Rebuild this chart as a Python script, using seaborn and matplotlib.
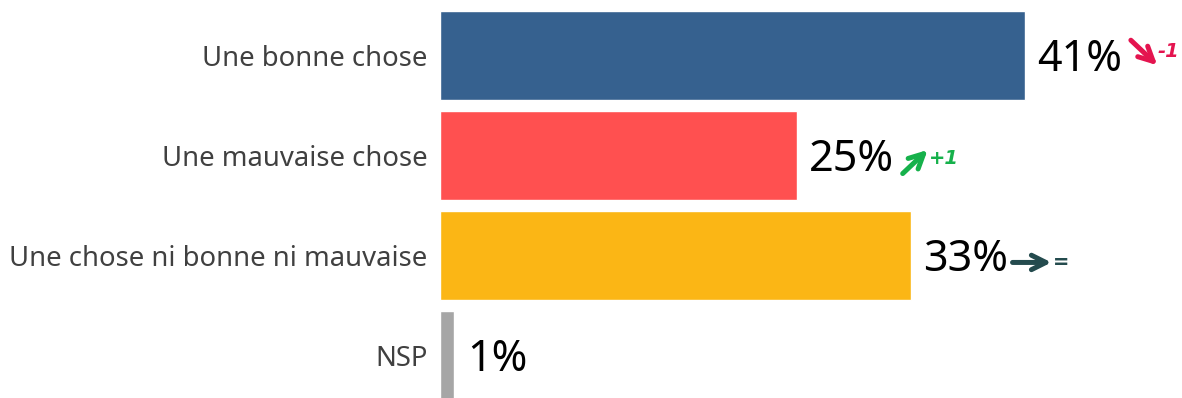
import matplotlib
matplotlib.use("Agg")
import matplotlib.pyplot as plt
import seaborn as sns
from matplotlib.text import OffsetFrom

categories = ["Une bonne chose", "Une mauvaise chose",
              "Une chose ni bonne ni mauvaise", "NSP"]
values = [41, 25, 33, 1]
value_labels = ["41%", "25%", "33%", "1%"]
colors = ["#36618F", "#FF5050", "#FBB615", "#A6A6A6"]

# evolution vs previous wave
changes = ["-1", "+1", "=", None]
change_colors = ["#E4144F", "#16B14B", "#244B4E", None]
# arrow tail / head / label offsets (points from right-middle of value label)
arrow_geom = [
    ((6, 14), (25, -4), (25, 6)),
    ((6, -10), (24, 7), (25, 1)),
    ((3, -2), (31, -2), (32, -2)),
    None,
]

sns.set_style("white")
plt.rcParams["font.family"] = ["Noto Sans", "DejaVu Sans"]

fig = plt.figure(figsize=(11.82, 3.98), dpi=100)
ax = fig.add_axes([440 / 1182, 0, 742 / 1182, 1])

sns.barplot(x=values, y=categories, hue=categories, palette=colors,
            orient="h", width=0.89, saturation=1, legend=False, ax=ax)

ax.set_xlim(0, 52)
ax.set_ylim(3.425, -0.555)
sns.despine(ax=ax, left=True, bottom=True)
ax.set_xticks([])
ax.set_xlabel("")
ax.set_ylabel("")
ax.tick_params(axis="y", length=0, pad=9, labelsize=19.8, labelcolor="#404040")

labels = []
for i, v in enumerate(values):
    t = ax.annotate(value_labels[i], xy=(v, i), xytext=(9, -3),
                    textcoords="offset points", ha="left", va="center",
                    fontsize=31, color="black", annotation_clip=False)
    labels.append(t)

for i, txt in enumerate(labels):
    if changes[i] is None:
        continue
    tail, head, lab = arrow_geom[i]
    ref = OffsetFrom(txt, (1.0, 0.5))
    ax.annotate("", xy=head, xycoords=ref, xytext=tail, textcoords=ref,
                arrowprops=dict(arrowstyle="->", color=change_colors[i],
                                lw=3.6, mutation_scale=26,
                                shrinkA=0, shrinkB=0),
                annotation_clip=False)
    ax.annotate(changes[i], xy=lab, xycoords=ref, ha="left", va="center",
                fontsize=14, fontweight="bold", fontstyle="italic",
                family="DejaVu Sans", color=change_colors[i],
                annotation_clip=False)

fig.savefig("out.png", dpi=100)
